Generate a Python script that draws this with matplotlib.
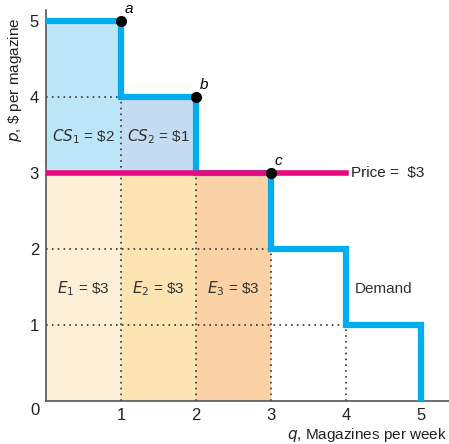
import matplotlib.pyplot as plt

plt.rcParams['font.family'] = ['Liberation Sans', 'DejaVu Sans']

# demand: willingness to pay for each magazine
units = [1, 2, 3, 4, 5]
wtp = [5, 4, 3, 2, 1]
price = 3
point_labels = ['a', 'b', 'c']
cs_labels = [r'$\mathit{CS}_1$ = \$2', r'$\mathit{CS}_2$ = \$1']
e_labels = [r'$\mathit{E}_1$ = \$3', r'$\mathit{E}_2$ = \$3', r'$\mathit{E}_3$ = \$3']

cs_colors = ['#bde5f8', '#c3dcf2']
e_colors = ['#fdf0d6', '#fde4b3', '#fbd1a6']
blue = '#00aeef'
pink = '#e8087f'
txt = '#333333'

fig = plt.figure(figsize=(4.49, 4.44), dpi=100)
ax = fig.add_axes([46 / 449, 43 / 444, 403 / 449, 391 / 444])
ax.set_xlim(0, 403 / 75)
ax.set_ylim(0, 391 / 76)

bought = [u for u, w in zip(units, wtp) if w >= price]

# shaded areas
for i, u in enumerate(bought):
    ax.fill_between([u - 1, u], 0, price, color=e_colors[i], lw=0, zorder=1)
    if wtp[i] > price:
        ax.fill_between([u - 1, u], price, wtp[i], color=cs_colors[i], lw=0, zorder=1)

# dotted grid lines
dot = dict(color='#333333', lw=1.2, ls=(0, (1, 2.5)), zorder=2)
for u, w in zip(units[:-1], wtp[1:]):
    ax.plot([u, u], [0, w], **dot)
    ax.plot([0, u], [w, w], **dot)

# demand step curve
xs, ys = [0], [wtp[0]]
for u, w in zip(units, wtp):
    xs += [u, u]
    nxt = wtp[u] if u < len(wtp) else 0
    ys += [w, nxt]
ax.plot(xs, ys, color=blue, lw=4.5, solid_joinstyle='miter', zorder=3)

# price line
ax.plot([0, 4], [price, price], color=pink, lw=4, zorder=4)
ax.text(4.07, price, 'Price =  $3', fontsize=11, va='center', color='#222222')

# points a, b, c
for u, w, lab in zip(bought, wtp, point_labels):
    ax.plot(u, w, 'o', color='black', ms=7, zorder=5)
    ax.text(u + 0.05, w + 0.06, lab, fontsize=11, style='italic', va='bottom')

for i, lab in enumerate(cs_labels):
    ax.text(i + 0.5, 3.48, lab, fontsize=11, ha='center', va='center', color=txt)
for i, lab in enumerate(e_labels):
    ax.text(i + 0.5, 1.48, lab, fontsize=11, ha='center', va='center', color=txt)
ax.text(4.12, 1.48, 'Demand', fontsize=11, va='center', color=txt)

for s in ['top', 'right']:
    ax.spines[s].set_visible(False)
for s in ['left', 'bottom']:
    ax.spines[s].set_color('#555555')
    ax.spines[s].set_linewidth(1.2)
ax.tick_params(length=0, labelsize=12, pad=5, labelcolor='#222222')
ax.set_xticks(units)
ax.set_yticks(wtp)
ax.text(-0.15, -0.13, '0', fontsize=12, ha='center', va='center', color='#222222')

fig.text(15 / 449, 1 - 80 / 444, r'$\mathit{p}$, \$ per magazine', rotation=90,
         fontsize=11, ha='center', va='center', color='#222222')
fig.text(447 / 449, 5 / 444, r'$\mathit{q}$, Magazines per week', fontsize=11,
         ha='right', va='baseline', color='#222222')

fig.savefig('out.png')
